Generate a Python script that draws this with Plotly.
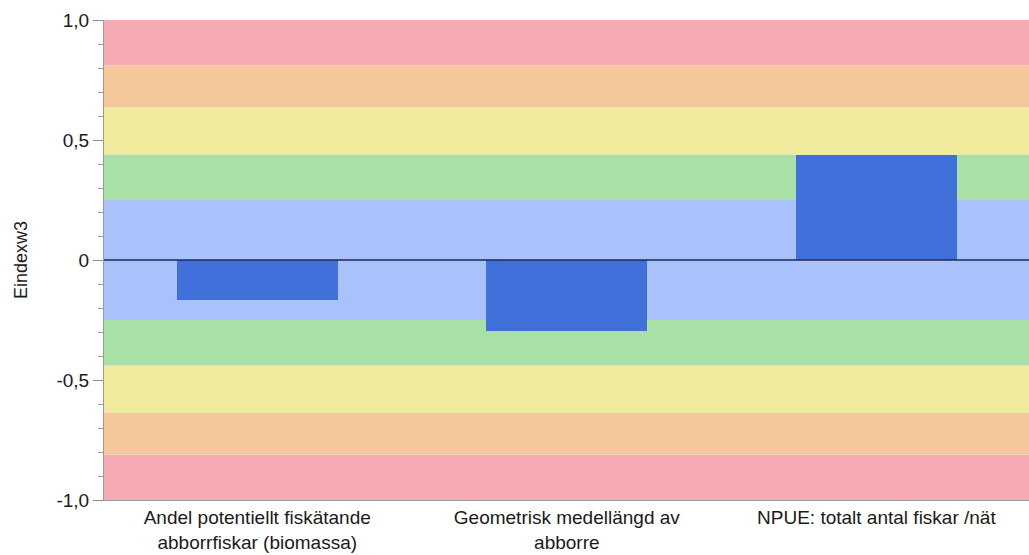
import plotly.graph_objects as go

categories = [
    "Andel potentiellt fiskätande<br>abborrfiskar (biomassa)",
    "Geometrisk medellängd av<br>abborre",
    "NPUE: totalt antal fiskar /nät",
]
values = [-0.167, -0.295, 0.437]

y_tickvals = [1.0, 0.5, 0.0, -0.5, -1.0]
y_ticktext = ["1,0", "0,5", "0", "-0,5", "-1,0"]

# colour bands (lower, upper)
band_edges = [-1.0, -0.81, -0.635, -0.44, -0.25, 0.25, 0.44, 0.635, 0.81, 1.0]
band_colors = ["#F7AAB4", "#F5C89C", "#F0EA9C", "#A8E0A6", "#A9C2FB",
               "#A8E0A6", "#F0EA9C", "#F5C89C", "#F7AAB4"]

fig = go.Figure()
fig.add_trace(go.Bar(
    x=categories, y=values, width=0.52,
    marker=dict(color="#4270DB", line=dict(width=0)),
    hoverinfo="y",
))

shapes = []
for i, c in enumerate(band_colors):
    shapes.append(dict(type="rect", xref="paper", yref="y", x0=0, x1=1,
                       y0=band_edges[i], y1=band_edges[i + 1],
                       fillcolor=c, line=dict(width=0), layer="below"))
shapes.append(dict(type="line", xref="paper", yref="y", x0=0, x1=1, y0=0, y1=0,
                   line=dict(color="#1C2A55", width=1.5), layer="above"))

font = dict(family="Liberation Sans, Arial, sans-serif", size=19, color="#1a1a1a")

fig.update_layout(
    width=1029, height=555,
    margin=dict(l=104, r=0, t=20, b=55),
    paper_bgcolor="white", plot_bgcolor="white",
    shapes=shapes, showlegend=False, bargap=0,
    font=font,
    xaxis=dict(
        range=[-0.495, 2.493], showgrid=False, zeroline=False,
        showline=True, linecolor="#9a9a9a", linewidth=1, ticks="",
        tickfont=dict(size=19), fixedrange=True,
    ),
    yaxis=dict(
        range=[-1.0, 1.0], tickvals=y_tickvals, ticktext=y_ticktext,
        showgrid=False, zeroline=False, showline=True, linecolor="#9a9a9a",
        linewidth=1, ticks="outside", ticklen=10, tickcolor="#8a8a8a",
        tickfont=dict(size=19),
        minor=dict(dtick=0.1, ticks="outside", ticklen=5, tickcolor="#9a9a9a",
                   showgrid=False),
        title=dict(text="Eindexw3", font=dict(size=18), standoff=24),
    ),
)

fig.write_html(
    "out.html",
    config={"displayModeBar": False},
    post_script="document.body.style.margin='0';document.body.style.overflow='hidden';",
)
